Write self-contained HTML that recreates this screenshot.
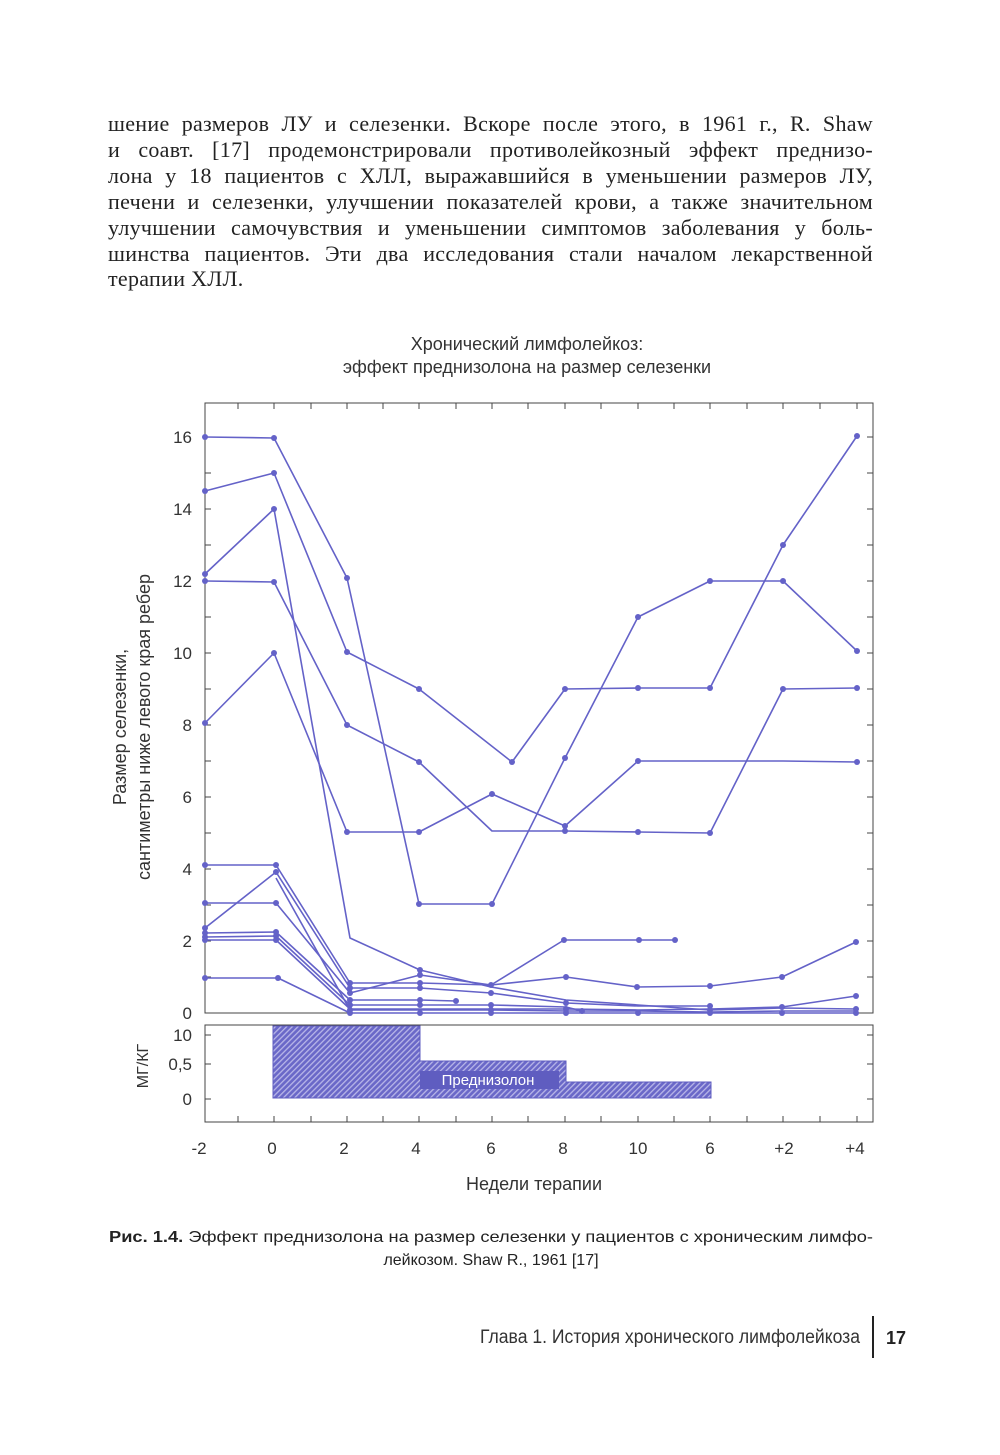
<!DOCTYPE html>
<html><head><meta charset="utf-8"><style>
body{margin:0;background:#fff;width:1000px;height:1455px;position:relative;overflow:hidden}
.t{position:absolute;left:108px;width:765px;font-family:"Liberation Serif",serif;font-size:22px;letter-spacing:0.3px;color:#222;text-align:justify;text-align-last:justify;white-space:nowrap}
</style></head><body>
<div class="t" style="top:111px">шение размеров ЛУ и селезенки. Вскоре после этого, в 1961 г., R. Shaw</div>
<div class="t" style="top:137px">и соавт. [17] продемонстрировали противолейкозный эффект преднизо-</div>
<div class="t" style="top:163px">лона у 18 пациентов с ХЛЛ, выражавшийся в уменьшении размеров ЛУ,</div>
<div class="t" style="top:189px">печени и селезенки, улучшении показателей крови, а также значительном</div>
<div class="t" style="top:215px">улучшении самочувствия и уменьшении симптомов заболевания у боль-</div>
<div class="t" style="top:241px">шинства пациентов. Эти два исследования стали началом лекарственной</div>
<div class="t" style="top:266px;text-align-last:left">терапии ХЛЛ.</div>
<svg width="1000" height="1455" style="position:absolute;left:0;top:0" font-family="Liberation Sans,sans-serif">
<defs><pattern id="h" width="4" height="4" patternUnits="userSpaceOnUse" patternTransform="rotate(45)"><rect width="4" height="4" fill="#6a68c8"/><rect width="1.3" height="4" fill="#b8b6e8"/></pattern></defs>
<text x="527" y="350" text-anchor="middle" font-size="18" fill="#333">Хронический лимфолейкоз:</text>
<text x="527" y="373" text-anchor="middle" font-size="18" fill="#333">эффект преднизолона на размер селезенки</text>
<g stroke="#444" stroke-width="1" fill="none">
<rect x="205" y="403" width="668" height="610"/>
<rect x="205" y="1025" width="668" height="97"/>
</g>
<g stroke="#444" stroke-width="1">
<path d="M205 437h6M205 473h6M205 509h6M205 545h6M205 581h6M205 617h6M205 653h6M205 689h6M205 725h6M205 761h6M205 797h6M205 833h6M205 869h6M205 905h6M205 941h6M205 977h6
M873 437h-6M873 473h-6M873 509h-6M873 545h-6M873 581h-6M873 617h-6M873 653h-6M873 689h-6M873 725h-6M873 761h-6M873 797h-6M873 833h-6M873 869h-6M873 905h-6M873 941h-6M873 977h-6
M205 1035h6M205 1064h6M205 1099h6M873 1035h-6M873 1064h-6M873 1099h-6"/>
<path d="M238 403v6M274 403v6M311 403v6M347 403v6M383 403v6M419 403v6M456 403v6M492 403v6M528 403v6M565 403v6M601 403v6M638 403v6M674 403v6M710 403v6M747 403v6M783 403v6M820 403v6M857 403v6
M238 1122v-6M274 1122v-6M311 1122v-6M347 1122v-6M383 1122v-6M419 1122v-6M456 1122v-6M492 1122v-6M528 1122v-6M565 1122v-6M601 1122v-6M638 1122v-6M674 1122v-6M710 1122v-6M747 1122v-6M783 1122v-6M820 1122v-6M857 1122v-6"/>
</g>
<g font-size="17" fill="#333" text-anchor="end">
<text x="192" y="443">16</text><text x="192" y="515">14</text><text x="192" y="587">12</text><text x="192" y="659">10</text><text x="192" y="731">8</text><text x="192" y="803">6</text><text x="192" y="875">4</text><text x="192" y="947">2</text><text x="192" y="1019">0</text>
<text x="192" y="1041">10</text><text x="192" y="1070">0,5</text><text x="192" y="1105">0</text>
</g>
<g font-size="17" fill="#333" text-anchor="middle">
<text x="199" y="1154">-2</text><text x="272" y="1154">0</text><text x="344" y="1154">2</text><text x="416" y="1154">4</text><text x="491" y="1154">6</text><text x="563" y="1154">8</text><text x="638" y="1154">10</text><text x="710" y="1154">6</text><text x="784" y="1154">+2</text><text x="855" y="1154">+4</text>
<text x="534" y="1190" font-size="18">Недели терапии</text>
<text transform="translate(126,727) rotate(-90)" font-size="18">Размер селезенки,</text>
<text transform="translate(150,727) rotate(-90)" font-size="18">сантиметры ниже левого края ребер</text>
<text transform="translate(148,1066) rotate(-90)" font-size="16">МГ/КГ</text>
</g>
<path d="M273 1026H420V1061H566V1082H711V1098H273Z" fill="url(#h)" stroke="#5f5dc0" stroke-width="1"/>
<rect x="420" y="1071" width="139" height="18" fill="#5f5dc0"/>
<text x="488" y="1085" text-anchor="middle" font-size="15" fill="#fff">Преднизолон</text>
<g stroke="#6462c8" stroke-width="1.6" fill="none" stroke-linejoin="round">
<polyline points="205,437 274,438 347,578 419,904 492,904 565,758 638,617 710,581 783,581 857,651"/>
<polyline points="205,491 274,473 347,652 419,689 512,762 565,689 638,688 710,688 783,545 857,436"/>
<polyline points="205,574 274,509 350,938 420,970 491,987 566,1000 638,1005 710,1010 782,1008 856,1009"/>
<polyline points="205,581 274,582 347,725 419,762 492,831 565,831 638,832 710,833 783,689 857,688"/>
<polyline points="205,723 274,653 347,832 419,832 492,794 565,826 638,761 710,761 783,761 857,762"/>
<polyline points="205,865 276,865 350,983 420,983 491,985 566,977 637,987 710,986 782,977 856,942"/>
<polyline points="205,903 276,903 350,993 420,975 491,985 564,940 639,940 675,940"/>
<polyline points="205,928 276,872 350,988 420,988 491,993 566,1003 638,1006 710,1006"/>
<polyline points="205,933 276,932 350,1000 420,1000 456,1001"/>
<polyline points="205,937 276,936 350,1005 420,1005 491,1005 566,1007 582,1011"/>
<polyline points="205,940 276,940 350,1009 420,1009 491,1009 566,1009 638,1010 710,1009 782,1007 856,996"/>
<polyline points="205,978 278,978 350,1013 420,1013 491,1013 566,1013 638,1013 710,1013 782,1013 856,1013"/>
<polyline points="276,878 350,1010 420,1010 491,1010 566,1011 638,1011 710,1012 782,1011 856,1011"/>
</g>
<g fill="#6462c8">
<circle cx="205" cy="437" r="3"/><circle cx="274" cy="438" r="3"/><circle cx="347" cy="578" r="3"/><circle cx="419" cy="904" r="3"/><circle cx="492" cy="904" r="3"/><circle cx="565" cy="758" r="3"/><circle cx="638" cy="617" r="3"/><circle cx="710" cy="581" r="3"/><circle cx="783" cy="581" r="3"/><circle cx="857" cy="651" r="3"/>
<circle cx="205" cy="491" r="3"/><circle cx="274" cy="473" r="3"/><circle cx="347" cy="652" r="3"/><circle cx="419" cy="689" r="3"/><circle cx="512" cy="762" r="3"/><circle cx="565" cy="689" r="3"/><circle cx="638" cy="688" r="3"/><circle cx="710" cy="688" r="3"/><circle cx="783" cy="545" r="3"/><circle cx="857" cy="436" r="3"/>
<circle cx="205" cy="574" r="3"/><circle cx="274" cy="509" r="3"/><circle cx="205" cy="581" r="3"/><circle cx="274" cy="582" r="3"/><circle cx="347" cy="725" r="3"/><circle cx="419" cy="762" r="3"/><circle cx="492" cy="794" r="3"/><circle cx="565" cy="826" r="3"/><circle cx="565" cy="831" r="3"/><circle cx="638" cy="832" r="3"/><circle cx="710" cy="833" r="3"/><circle cx="783" cy="689" r="3"/><circle cx="857" cy="688" r="3"/>
<circle cx="205" cy="723" r="3"/><circle cx="274" cy="653" r="3"/><circle cx="347" cy="832" r="3"/><circle cx="419" cy="832" r="3"/><circle cx="638" cy="761" r="3"/><circle cx="857" cy="762" r="3"/>
<circle cx="205" cy="865" r="3"/><circle cx="276" cy="865" r="3"/><circle cx="276" cy="872" r="3"/><circle cx="205" cy="903" r="3"/><circle cx="276" cy="903" r="3"/>
<circle cx="205" cy="928" r="3"/><circle cx="205" cy="933" r="3"/><circle cx="205" cy="937" r="3"/><circle cx="205" cy="940" r="3"/><circle cx="276" cy="932" r="3"/><circle cx="276" cy="936" r="3"/><circle cx="276" cy="940" r="3"/><circle cx="205" cy="978" r="3"/><circle cx="278" cy="978" r="3"/>
<circle cx="350" cy="983" r="3"/><circle cx="350" cy="988" r="3"/><circle cx="350" cy="993" r="3"/><circle cx="350" cy="1000" r="3"/><circle cx="350" cy="1005" r="3"/><circle cx="350" cy="1010" r="3"/><circle cx="350" cy="1013" r="3"/>
<circle cx="420" cy="970" r="3"/><circle cx="420" cy="975" r="3"/><circle cx="420" cy="983" r="3"/><circle cx="420" cy="988" r="3"/><circle cx="420" cy="1000" r="3"/><circle cx="420" cy="1005" r="3"/><circle cx="420" cy="1013" r="3"/><circle cx="456" cy="1001" r="3"/>
<circle cx="491" cy="985" r="3"/><circle cx="491" cy="993" r="3"/><circle cx="491" cy="1005" r="3"/><circle cx="491" cy="1010" r="3"/><circle cx="491" cy="1013" r="3"/>
<circle cx="564" cy="940" r="3"/><circle cx="639" cy="940" r="3"/><circle cx="675" cy="940" r="3"/><circle cx="566" cy="977" r="3"/><circle cx="566" cy="1003" r="3"/><circle cx="566" cy="1009" r="3"/><circle cx="566" cy="1013" r="3"/><circle cx="582" cy="1011" r="3"/>
<circle cx="637" cy="987" r="3"/><circle cx="638" cy="1013" r="3"/><circle cx="710" cy="986" r="3"/><circle cx="710" cy="1006" r="3"/><circle cx="710" cy="1010" r="3"/><circle cx="710" cy="1013" r="3"/>
<circle cx="782" cy="977" r="3"/><circle cx="782" cy="1007" r="3"/><circle cx="782" cy="1013" r="3"/><circle cx="856" cy="942" r="3"/><circle cx="856" cy="996" r="3"/><circle cx="856" cy="1009" r="3"/><circle cx="856" cy="1013" r="3"/>
</g>
<text x="491" y="1242" text-anchor="middle" font-size="16" fill="#222" textLength="764" lengthAdjust="spacingAndGlyphs"><tspan font-weight="bold">Рис. 1.4.</tspan> Эффект преднизолона на размер селезенки у пациентов с хроническим лимфо-</text>
<text x="491" y="1265" text-anchor="middle" font-size="16" fill="#222">лейкозом. Shaw R., 1961 [17]</text>
<text x="860" y="1343" text-anchor="end" font-size="19" fill="#333" textLength="380" lengthAdjust="spacingAndGlyphs">Глава 1. История хронического лимфолейкоза</text>
<rect x="872" y="1316" width="2" height="42" fill="#222"/>
<text x="886" y="1344" font-size="18" fill="#222" font-weight="bold">17</text>
</svg>
</body></html>
